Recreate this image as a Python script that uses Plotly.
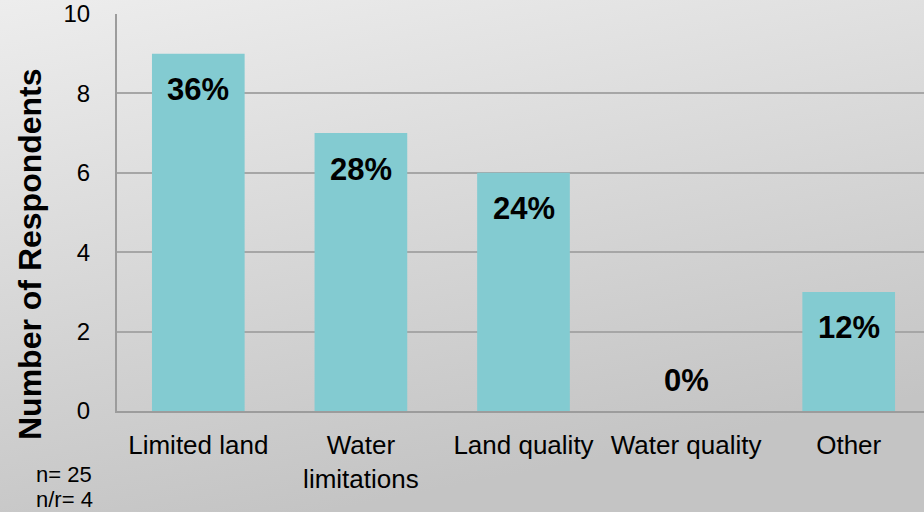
import base64
import plotly.graph_objects as go

categories = ["Limited land", "Water<br>limitations", "Land quality", "Water quality", "Other"]
respondents = [9, 7, 6, 0, 3]
percent_labels = ["36%", "28%", "24%", "0%", "12%"]
y_ticks = [0, 2, 4, 6, 8, 10]
footnote_lines = ["n= 25", "n/r= 4"]

W, H = 924, 512
ML, MR, MT, MB = 117, 0, 14, 101
PW, PH = W - ML - MR, H - MT - MB
FONT = "Liberation Sans, Arial, sans-serif"

def px_x(px):
    return (px - ML) / PW

def px_y(py):
    return (H - MB - py) / PH

svg = (
    '<svg xmlns="http://www.w3.org/2000/svg" width="924" height="512" preserveAspectRatio="none">'
    '<defs><linearGradient id="g" x1="0" y1="0" x2="0.35" y2="1">'
    '<stop offset="0" stop-color="#ededed"/><stop offset="1" stop-color="#c4c4c4"/>'
    '</linearGradient></defs><rect width="924" height="512" fill="url(#g)"/></svg>'
)
bg_src = "data:image/svg+xml;base64," + base64.b64encode(svg.encode()).decode()

fig = go.Figure()
fig.add_trace(go.Bar(
    x=categories, y=respondents,
    marker=dict(color="#83cbd1", line=dict(width=0)),
    hoverinfo="skip",
))

for c, v, t in zip(categories, respondents, percent_labels):
    fig.add_annotation(
        x=c, y=v, text="<b>%s</b>" % t, showarrow=False,
        yshift=-36 if v > 0 else 31,
        font=dict(family=FONT, size=31, color="#000000"),
    )

fig.add_annotation(
    xref="paper", yref="paper", x=px_x(30), y=px_y(254),
    xanchor="center", yanchor="middle",
    text="<b>Number of Respondents</b>", textangle=-90, showarrow=False,
    font=dict(family=FONT, size=32, color="#000000"),
)
for line, ypx in zip(footnote_lines, [474, 499]):
    fig.add_annotation(
        xref="paper", yref="paper", x=px_x(34), y=px_y(ypx),
        xanchor="left", yanchor="middle", align="left",
        text=line, showarrow=False,
        font=dict(family=FONT, size=22, color="#000000"),
    )

fig.add_layout_image(
    source=bg_src, xref="paper", yref="paper",
    x=px_x(0), y=px_y(0), sizex=W / PW, sizey=H / PH,
    xanchor="left", yanchor="top", sizing="stretch", layer="below",
)

fig.update_layout(
    width=W, height=H,
    margin=dict(l=ML, r=MR, t=MT, b=MB),
    paper_bgcolor="#dadada", plot_bgcolor="rgba(0,0,0,0)",
    bargap=0.43, showlegend=False,
    font=dict(family=FONT, color="#000000"),
    xaxis=dict(
        range=[-0.5, -0.5 + PW / (813 / 5)],
        showgrid=False, showline=True, linecolor="#9c9c9c", linewidth=2,
        ticks="", tickfont=dict(size=26, color="#000000"),
        ticklabelstandoff=10, fixedrange=True,
    ),
    yaxis=dict(
        range=[0, 10], tickvals=y_ticks,
        showgrid=True, gridcolor="#a6a6a6", gridwidth=2,
        showline=True, linecolor="#9c9c9c", linewidth=2,
        zeroline=False, ticks="", tickfont=dict(size=24, color="#000000"),
        ticklabelstandoff=20, fixedrange=True,
    ),
)

fig.write_html("out.html", config={"displayModeBar": False},
               post_script="document.body.style.margin='0';")
